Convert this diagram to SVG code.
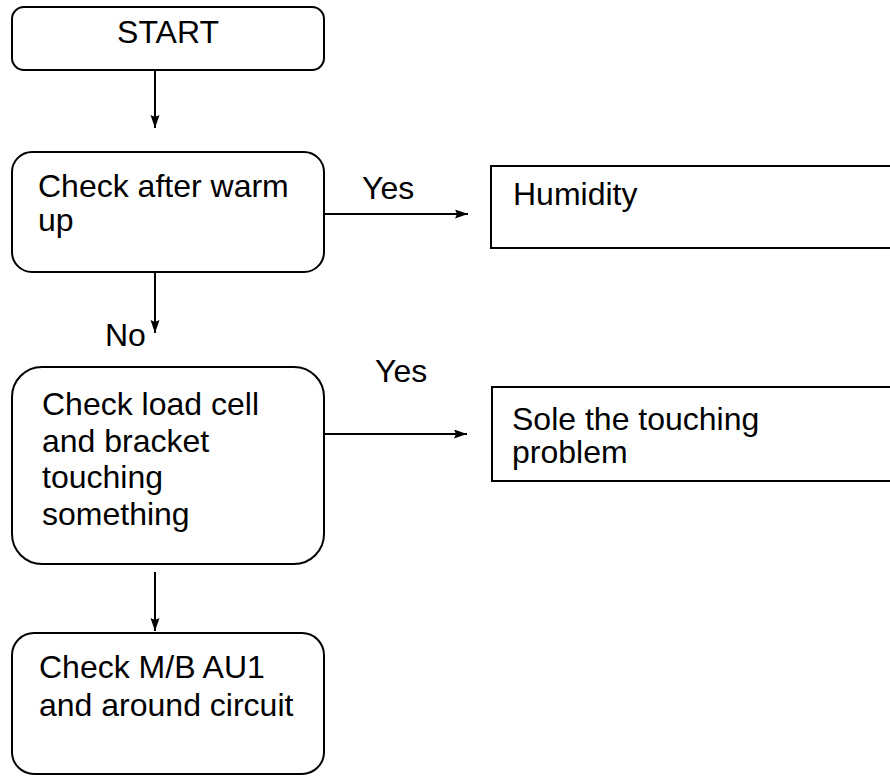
<svg xmlns="http://www.w3.org/2000/svg" width="890" height="776" viewBox="0 0 890 776">
<defs>
<marker id="ah" markerUnits="userSpaceOnUse" markerWidth="14" markerHeight="10" refX="13" refY="4.5" orient="auto">
<path d="M0,0 L13,4.5 L0,9 L2,4.5 z" fill="#000"/>
</marker>
<style>
.box{fill:#fff;stroke:#000;stroke-width:2}
.t{font-family:"Liberation Sans",Arial,sans-serif;font-size:32px;fill:#000}
.c{fill:none;stroke:#000;stroke-width:2;marker-end:url(#ah)}
</style>
</defs>
<rect width="890" height="776" fill="#fff"/>
<g id="start">
<rect class="box" x="12" y="7" width="312" height="63" rx="12"/>
<text class="t" x="168" y="43" text-anchor="middle">START</text>
</g>
<g id="warm">
<rect class="box" x="12" y="152" width="312" height="120" rx="20"/>
<text class="t" x="38" y="197">Check after warm</text>
<text class="t" x="38" y="231">up</text>
</g>
<g id="humidity">
<rect class="box" x="491" y="166" width="420" height="82"/>
<text class="t" x="513" y="205">Humidity</text>
</g>
<g id="loadcell">
<rect class="box" x="12" y="367" width="312" height="197" rx="30"/>
<text class="t" x="42" y="415">Check load cell</text>
<text class="t" x="42" y="452">and bracket</text>
<text class="t" x="42" y="488">touching</text>
<text class="t" x="42" y="525">something</text>
</g>
<g id="sole">
<rect class="box" x="492" y="387" width="420" height="94"/>
<text class="t" x="512" y="430">Sole the touching</text>
<text class="t" x="512" y="463">problem</text>
</g>
<g id="mb">
<rect class="box" x="12" y="633" width="312" height="141" rx="22"/>
<text class="t" x="39" y="678">Check M/B AU1</text>
<text class="t" x="39" y="716">and around circuit</text>
</g>
<g id="connectors">
<line class="c" x1="155" y1="70" x2="155" y2="128"/>
<line class="c" x1="155" y1="272" x2="155" y2="333"/>
<line class="c" x1="324" y1="214" x2="468" y2="214"/>
<line class="c" x1="324" y1="434" x2="467" y2="434"/>
<line class="c" x1="155" y1="572" x2="155" y2="631"/>
<text class="t" x="362" y="199">Yes</text>
<text class="t" x="375" y="382">Yes</text>
<text class="t" x="105" y="346">No</text>
</g>
</svg>
